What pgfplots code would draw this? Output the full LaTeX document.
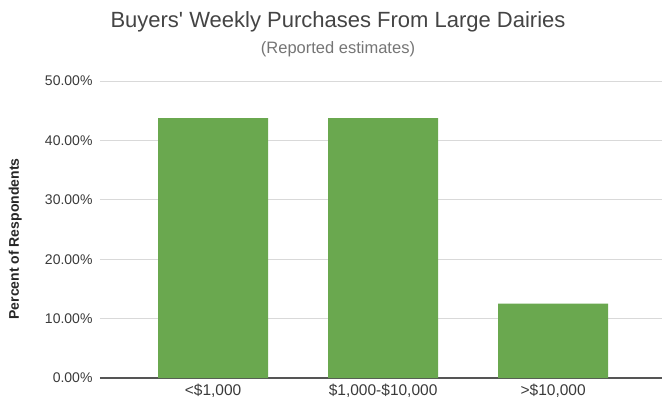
\documentclass[border=0pt]{standalone}
\usepackage{pgfplots}
\pgfplotsset{compat=1.18}
\usepackage{fontspec}
\setmainfont{Liberation Sans}
\newfontfamily\titlefont{Liberation Sans}
\definecolor{bargreen}{HTML}{6AA84F}
\definecolor{gridgray}{HTML}{D9D9D9}
\definecolor{axisgray}{HTML}{555555}
\definecolor{titlegray}{HTML}{444444}
\definecolor{subgray}{HTML}{757575}
\definecolor{tickgray}{HTML}{3A3A3A}
\begin{document}
\begin{tikzpicture}
\begin{axis}[
  at={(0,0)}, anchor=south west,
  scale only axis, width=562bp, height=297bp,
  xmin=-0.665, xmax=2.64, ymin=0, ymax=50,
  ybar, bar width=110bp,
  xtick={0,1,2}, xticklabels={{<\$1,000}, {\$1,000-\$10,000}, {>\$10,000}},
  ytick={0,10,20,30,40,50},
  yticklabel={\pgfmathprintnumber[fixed,fixed zerofill,precision=2]{\tick}\%},
  /pgf/number format/assume math mode=true,
  ymajorgrids, grid style={color=gridgray, line width=0.8bp},
  axis x line*=bottom, axis y line*=left,
  separate axis lines,
  x axis line style={draw=axisgray, line width=1.2bp, -},
  y axis line style={draw=none},
  major tick length=0,
  ticklabel style={text=tickgray},
  yticklabel style={xshift=-4bp, font=\fontsize{14bp}{16bp}\selectfont},
  xticklabel style={yshift=-3bp, font=\fontsize{15.5bp}{18bp}\selectfont},
  ylabel={\bfseries Percent of Respondents},
  ylabel style={at={(axis description cs:-0.151,0.468)}, anchor=center, rotate=0, font=\fontsize{14bp}{16bp}\selectfont, text=black!85},
  clip=false,
]
\addplot[fill=bargreen, draw=none] coordinates {(0,43.75) (1,43.75) (2,12.5)};
\end{axis}
\node[anchor=base, font=\titlefont\fontsize{22bp}{26bp}\selectfont, text=titlegray] at (238bp,350bp) {Buyers' Weekly Purchases From Large Dairies};
\node[anchor=base, font=\fontsize{16.5bp}{20bp}\selectfont, text=subgray] at (238bp,324bp) {(Reported estimates)};
\pgfresetboundingbox
\path (-100bp,-24bp) rectangle (563bp,378bp);
\end{tikzpicture}
\end{document}
